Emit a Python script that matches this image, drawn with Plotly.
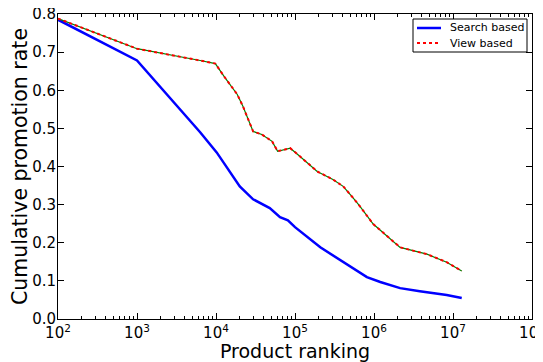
import plotly.graph_objects as go

# Data
search_rank = [100, 1000, 6300, 10200, 20000, 29500, 47900, 64600, 81300, 100000,
               209000, 407000, 501000, 813000, 1200000, 2140000, 3800000, 8320000, 12900000]
search_rate = [0.785, 0.678, 0.490, 0.437, 0.348, 0.314, 0.291, 0.267, 0.259, 0.241,
               0.188, 0.149, 0.136, 0.110, 0.097, 0.081, 0.073, 0.063, 0.055]

view_rank = [100, 1000, 6300, 9800, 12900, 18600, 21900, 29500, 38000, 51300, 60300,
             87100, 115000, 191000, 302000, 407000, 537000, 661000, 977000, 1450000,
             2140000, 4680000, 8320000, 12900000]
view_rate = [0.788, 0.709, 0.678, 0.670, 0.634, 0.589, 0.558, 0.492, 0.484, 0.466, 0.440,
             0.448, 0.427, 0.387, 0.366, 0.348, 0.319, 0.296, 0.249, 0.217,
             0.188, 0.170, 0.149, 0.126]

series_names = ["Search based", "View based"]

x_tickvals = [1e2, 1e3, 1e4, 1e5, 1e6, 1e7, 1e8]
x_ticktext = ["10<sup>2</sup>", "10<sup>3</sup>", "10<sup>4</sup>", "10<sup>5</sup>",
              "10<sup>6</sup>", "10<sup>7</sup>", "10<sup>8</sup>"]
y_tickvals = [0.0, 0.1, 0.2, 0.3, 0.4, 0.5, 0.6, 0.7, 0.8]
y_ticktext = ["0.0", "0.1", "0.2", "0.3", "0.4", "0.5", "0.6", "0.7", "0.8"]

minor_vals = [m * 10 ** e for e in range(2, 8) for m in range(2, 10)]

# The page body has an 8px margin, so the figure is sized/offset to compensate
OFF = 8
W, H = 543 - OFF, 362 - OFF
L, R, T, B = 58 - OFF, 11, 14 - OFF, 43
PW, PH = W - L - R, H - T - B


def px_x(p):  # screen pixel -> paper coordinate
    return (p - OFF - L) / PW


def px_y(p):
    return (H - B - (p - OFF)) / PH


fig = go.Figure()
fig.add_trace(go.Scatter(x=search_rank, y=search_rate, mode="lines", name=series_names[0],
                         line=dict(color="#0000ff", width=2.5), showlegend=False))
fig.add_trace(go.Scatter(x=view_rank, y=view_rate, mode="lines", showlegend=False,
                         line=dict(color="#008000", width=1.2), hoverinfo="skip"))
fig.add_trace(go.Scatter(x=view_rank, y=view_rate, mode="lines", name=series_names[1],
                         line=dict(color="#ff0000", width=2, dash="dot"), showlegend=False))

font = "DejaVu Sans, sans-serif"

# Manual legend box (matplotlib-like compact legend)
shapes = [
    dict(type="rect", xref="paper", yref="paper", x0=px_x(413), x1=px_x(527),
         y0=px_y(52), y1=px_y(19), line=dict(color="black", width=1), fillcolor="white",
         layer="above"),
    dict(type="line", xref="paper", yref="paper", x0=px_x(417), x1=px_x(441),
         y0=px_y(28), y1=px_y(28), line=dict(color="#0000ff", width=2.5), layer="above"),
    dict(type="line", xref="paper", yref="paper", x0=px_x(417), x1=px_x(441),
         y0=px_y(43), y1=px_y(43), line=dict(color="#ff0000", width=2, dash="dot"),
         layer="above"),
]
annotations = [
    dict(xref="paper", yref="paper", x=px_x(448), y=px_y(28), text=series_names[0],
         showarrow=False, xanchor="left", yanchor="middle",
         font=dict(size=11, family=font, color="black")),
    dict(xref="paper", yref="paper", x=px_x(448), y=px_y(43), text=series_names[1],
         showarrow=False, xanchor="left", yanchor="middle",
         font=dict(size=11, family=font, color="black")),
]

fig.update_layout(
    width=W, height=H,
    margin=dict(l=L, r=R, t=T, b=B),
    paper_bgcolor="white", plot_bgcolor="white",
    font=dict(family=font, color="black", size=15),
    showlegend=False,
    shapes=shapes,
    annotations=annotations,
    xaxis=dict(type="log", range=[2, 8], tickmode="array", tickvals=x_tickvals,
               ticktext=x_ticktext, ticks="inside", ticklen=6, tickcolor="black",
               showline=True, linecolor="black", linewidth=1, mirror="allticks",
               showgrid=False, zeroline=False, tickfont=dict(size=15), automargin=False,
               ticklabeloverflow="allow",
               minor=dict(tickmode="array", tickvals=minor_vals, ticks="inside",
                          ticklen=3, tickcolor="black", showgrid=False),
               title=dict(text="Product ranking", font=dict(size=19), standoff=3)),
    yaxis=dict(range=[0, 0.8], tickmode="array", tickvals=y_tickvals,
               ticktext=y_ticktext, ticks="inside", ticklen=6, tickcolor="black",
               showline=True, linecolor="black", linewidth=1, mirror="allticks",
               showgrid=False, zeroline=False, tickfont=dict(size=15), automargin=False,
               ticklabelstandoff=-2, ticklabeloverflow="allow",
               title=dict(text="Cumulative promotion rate", font=dict(size=20.5), standoff=4)),
)

fig.write_html("out.html")
